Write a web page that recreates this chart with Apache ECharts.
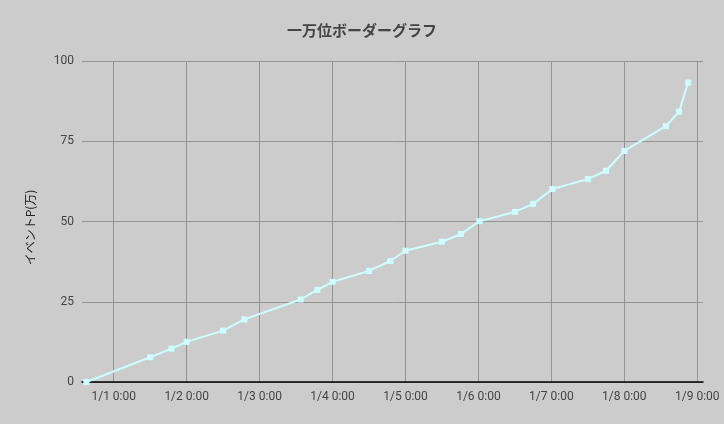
<!DOCTYPE html>
<html>
<head>
<meta charset="utf-8">
<title>一万位ボーダーグラフ</title>
<script src="https://cdn.jsdelivr.net/npm/echarts@6/dist/echarts.min.js"></script>
<style>
  html, body { margin: 0; padding: 0; background: #cccccc; }
  #chart { width: 724px; height: 424px; }
</style>
</head>
<body>
<div id="chart"></div>
<script>
// border data (time, event points in 万)
var times = [
    '2019-12-31 15:00', '2020-01-01 12:00', '2020-01-01 19:00', '2020-01-02 00:00',
    '2020-01-02 12:00', '2020-01-02 19:00', '2020-01-03 13:30', '2020-01-03 19:00',
    '2020-01-04 00:00', '2020-01-04 12:00', '2020-01-04 19:00', '2020-01-05 00:00',
    '2020-01-05 12:00', '2020-01-05 18:15', '2020-01-06 00:20', '2020-01-06 12:00',
    '2020-01-06 18:00', '2020-01-07 00:20', '2020-01-07 12:00', '2020-01-07 18:00',
    '2020-01-08 00:00', '2020-01-08 13:40', '2020-01-08 18:00', '2020-01-08 21:00'
];
var points = [
    0, 7.7, 10.4, 12.5,
    16.0, 19.5, 25.7, 28.7,
    31.2, 34.6, 37.7, 40.9,
    43.7, 46.1, 50.1, 53.0,
    55.5, 60.1, 63.2, 65.8,
    72.0, 79.7, 84.2, 93.3
];
var axisStart = '2019-12-31 13:34';
var axisEnd = '2020-01-09 01:53';
var yTicks = [0, 25, 50, 75, 100];

var DAY = 24 * 3600 * 1000;

var myChart = echarts.init(document.getElementById('chart'));

var seriesData = [];
for (var i = 0; i < times.length; i++) {
    seriesData.push([times[i], points[i]]);
}

var option = {
    backgroundColor: '#cccccc',
    animation: false,
    title: {
        text: '一万位ボーダーグラフ',
        left: 'center',
        top: 18,
        textStyle: {
            fontFamily: 'Noto Sans CJK JP',
            fontSize: 15,
            fontWeight: 'bold',
            color: '#444444'
        }
    },
    grid: {
        left: 82,
        right: 21,
        top: 61,
        bottom: 42,
        outerBoundsMode: 'none'
    },
    xAxis: {
        type: 'time',
        min: axisStart,
        max: axisEnd,
        minInterval: DAY,
        maxInterval: DAY,
        splitNumber: 8,
        axisLine: { show: true, lineStyle: { color: '#000000', width: 1.5 } },
        axisTick: { show: false },
        axisLabel: {
            formatter: '{M}/{d} {H}:{mm}',
            showMinLabel: false,
            showMaxLabel: false,
            color: '#444444',
            fontFamily: 'Roboto',
            fontSize: 12,
            margin: 9
        },
        splitLine: {
            show: true,
            showMinLine: false,
            showMaxLine: false,
            lineStyle: { color: '#939393', width: 1 }
        }
    },
    yAxis: {
        type: 'value',
        min: yTicks[0],
        max: yTicks[yTicks.length - 1],
        interval: 25,
        name: 'イベントP(万)',
        nameLocation: 'middle',
        nameGap: 46,
        nameTextStyle: {
            fontFamily: 'Noto Sans CJK JP',
            fontSize: 12,
            color: '#222222',
            padding: [0, 12, 0, 0]
        },
        axisLine: { show: false },
        axisTick: { show: false },
        axisLabel: {
            color: '#444444',
            fontFamily: 'Roboto',
            fontSize: 12,
            margin: 8
        },
        splitLine: { lineStyle: { color: '#939393', width: 1 } }
    },
    series: [
        {
            name: 'ボーダー',
            type: 'line',
            data: seriesData,
            symbol: 'rect',
            symbolSize: 6,
            lineStyle: { color: '#ccffff', width: 2 },
            itemStyle: { color: '#ccffff' }
        }
    ]
};

myChart.setOption(option);
</script>
</body>
</html>
